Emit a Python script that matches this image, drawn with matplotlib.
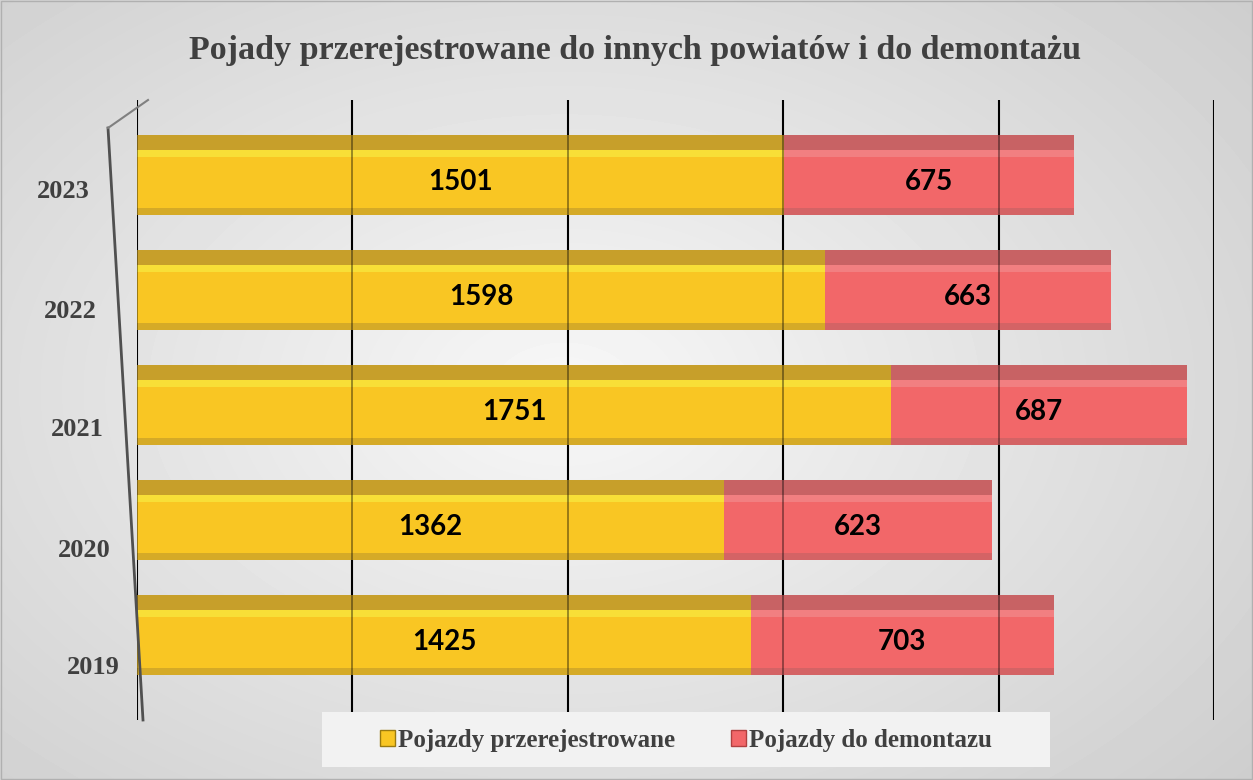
import numpy as np
import matplotlib
matplotlib.use("Agg")
import matplotlib.pyplot as plt
import matplotlib.transforms as mtransforms
from matplotlib.patches import Patch, Rectangle
from matplotlib.lines import Line2D

years = ["2019", "2020", "2021", "2022", "2023"]
przerejestrowane = [1425, 1362, 1751, 1598, 1501]
demontaz = [703, 623, 687, 663, 675]
x_ticks = [0, 500, 1000, 1500, 2000, 2500]

title = "Pojady przerejestrowane do innych powiatów i do demontażu"
label_a = "Pojazdy przerejestrowane"
label_b = "Pojazdy do demontazu"

YEL = "#F9C623"
YEL_TOP = "#C79F2A"
YEL_HI = "#F8E23A"
RED = "#F26769"
RED_TOP = "#C86264"
RED_HI = "#F38A8C"

W, H = 1253, 780
fig = plt.figure(figsize=(W / 100, H / 100), dpi=100)

# background gradient
bg = fig.add_axes([0, 0, 1, 1], zorder=-10)
yy, xx = np.mgrid[0:1:200j, 0:1:320j]
r = np.sqrt(((xx - 0.45) / 0.75) ** 2 + ((yy - 0.5) / 0.8) ** 2)
bg.imshow(0.97 - 0.17 * np.clip(r, 0, 1.2), cmap="gray", vmin=0, vmax=1,
          aspect="auto", extent=[0, 1, 0, 1], interpolation="bilinear")
bg.set_axis_off()
fig.patches.append(Rectangle((0.0005, 0.001), 0.999, 0.998, transform=fig.transFigure,
                             fill=False, edgecolor="#b0b0b0", lw=1))
# legend background panel
fig.patches.append(Rectangle((322 / W, (H - 767) / H), (1050 - 322) / W, 55 / H,
                             transform=fig.transFigure, facecolor="#f2f2f2",
                             edgecolor="none", zorder=0))

ax = fig.add_axes([137 / W, (H - 720) / H, (1214 - 137) / W, 620 / H])
ax.set_facecolor("none")
y = np.arange(len(years))
h = 0.70
a = np.array(przerejestrowane)
b = np.array(demontaz)

# gridlines (behind, and faint on top so they show through the bars)
for xv in x_ticks:
    ax.axvline(xv, color="black", lw=1.5, zorder=1)
    ax.axvline(xv, color="black", lw=1.2, alpha=0.45, zorder=4)

ax.barh(y, a, height=h, color=YEL, zorder=2)
ax.barh(y, b, left=a, height=h, color=RED, zorder=2)
# 3D-like top band and highlight
ax.barh(y + h / 2 - 0.065, a, height=0.13, color=YEL_TOP, zorder=3)
ax.barh(y + h / 2 - 0.065, b, left=a, height=0.13, color=RED_TOP, zorder=3)
ax.barh(y + h / 2 - 0.16, a, height=0.06, color=YEL_HI, alpha=0.9, zorder=3)
ax.barh(y + h / 2 - 0.16, b, left=a, height=0.06, color=RED_HI, alpha=0.7, zorder=3)
ax.barh(y - h / 2 + 0.03, a, height=0.06, color=YEL_TOP, alpha=0.7, zorder=3)
ax.barh(y - h / 2 + 0.03, b, left=a, height=0.06, color=RED_TOP, alpha=0.7, zorder=3)

for yi, va, vb in zip(y, a, b):
    ax.text(va / 2, yi - 0.06, f"{va}", ha="center", va="center", fontsize=20,
            fontweight="bold", family="Lato", color="black", zorder=5)
    ax.text(va + vb / 2, yi - 0.06, f"{vb}", ha="center", va="center", fontsize=20,
            fontweight="bold", family="Lato", color="black", zorder=5)

ax.set_xlim(0, 2500)
ax.set_ylim(-0.739, 4.652)
ax.set_xticks([])
ax.set_yticks(y)
ax.set_yticklabels(years, family="Liberation Serif", fontweight="bold",
                   fontsize=19, color="#404040")
ax.tick_params(axis="y", length=0, pad=24)
# perspective-like stagger of the category labels (pixels)
shifts = [(16, -32), (7, -30), (0, -25), (-7, -22), (-14, -17)]
for lbl, (dx, dy) in zip(ax.get_yticklabels(), shifts):
    lbl.set_va("center")
    lbl.set_transform(lbl.get_transform() + mtransforms.ScaledTranslation(dx / 100, dy / 100, fig.dpi_scale_trans))
for s in ax.spines.values():
    s.set_visible(False)

# left wall outline
fig.add_artist(Line2D([108 / W, 143 / W], [(H - 128) / H, (H - 720) / H], color="#505050", lw=2))
fig.add_artist(Line2D([108 / W, 148 / W], [(H - 128) / H, (H - 100) / H], color="#808080", lw=1.5))

fig.text(0.507, (H - 50) / H, title, ha="center", va="center", fontsize=24.5,
         fontweight="bold", family="Liberation Serif", color="#404040")

handles = [Patch(facecolor=YEL, edgecolor="#9a7a10"), Patch(facecolor=RED, edgecolor="#b04040")]
leg = fig.legend(handles, [label_a, label_b], loc="center", bbox_to_anchor=(686 / W, (H - 740) / H),
                 ncol=2, frameon=False, handlelength=0.6, handleheight=0.6, handletextpad=0.15,
                 columnspacing=2.2, borderpad=0.3,
                 prop={"family": "Liberation Serif", "weight": "bold", "size": 18})
for t in leg.get_texts():
    t.set_color("#404040")

fig.savefig("out.png", dpi=100)
